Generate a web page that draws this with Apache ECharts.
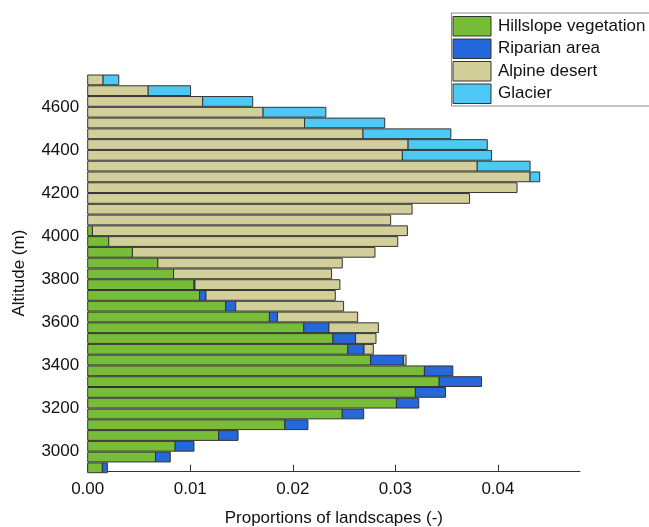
<!DOCTYPE html>
<html>
<head>
<meta charset="utf-8">
<script src="https://cdn.jsdelivr.net/npm/echarts@6/dist/echarts.min.js"></script>
<style>
html,body{margin:0;padding:0;background:#fff;}
#chart{width:649px;height:527px;}
</style>
</head>
<body>
<div id="chart"></div>
<script>
// Altitude bin centres (m), bottom to top (50 m bins)
const altitudes = [2925,2975,3025,3075,3125,3175,3225,3275,3325,3375,3425,3475,3525,3575,3625,3675,3725,3775,3825,3875,3925,3975,4025,4075,4125,4175,4225,4275,4325,4375,4425,4475,4525,4575,4625,4675,4725];
// Proportions of landscapes per class (segment widths)
const hillslope = [0.00143,0.00661,0.00853,0.01277,0.01922,0.02482,0.0301,0.03195,0.03427,0.03283,0.02759,0.02537,0.02391,0.02107,0.01772,0.01345,0.01091,0.01036,0.00837,0.00684,0.00436,0.00205,0.00046,0,0,0,0,0,0,0,0,0,0,0,0,0,0];
const riparian = [0.00049,0.00144,0.00183,0.00189,0.00225,0.00209,0.00218,0.00294,0.00413,0.00277,0.00319,0.00157,0.00221,0.00245,0.00078,0.00098,0.00062,0.0001,0,0,0,0,0,0,0,0,0,0,0,0,0,0,0,0,0,0,0];
const alpine = [0,0,0,0,0,0,0,0,0,0,0.00026,0.00091,0.00199,0.00482,0.00782,0.01052,0.01261,0.01413,0.01541,0.01798,0.02365,0.02818,0.03071,0.02954,0.03163,0.03723,0.04186,0.04313,0.03798,0.03068,0.03124,0.02684,0.02114,0.0171,0.01121,0.0059,0.0015];
const glacier = [0,0,0,0,0,0,0,0,0,0,0,0,0,0,0,0,0,0,0,0,0,0,0,0,0,0,0,0.00094,0.00515,0.0087,0.00772,0.00857,0.00782,0.00612,0.00488,0.00413,0.00153];
const seriesNames = ['Hillslope vegetation','Riparian area','Alpine desert','Glacier'];
const yTickValues = [3000,3200,3400,3600,3800,4000,4200,4400,4600];
const xTickValues = [0,0.01,0.02,0.03,0.04];

const colors = ['#77bd37','#2468dc','#d3cf9a','#4ccaf5'];
const borderCol = '#333333';
const binHalf = 25;
const FONT = '"Liberation Sans", Arial, sans-serif';

const classes = [hillslope, riparian, alpine, glacier];
const cum = altitudes.map(() => 0);
const seriesData = classes.map(arr => arr.map((v, i) => {
  const s = cum[i];
  cum[i] += v;
  return [s, s + v, altitudes[i]];
}));

function makeRender(color) {
  return function (params, api) {
    const x0 = api.value(0), x1 = api.value(1), alt = api.value(2);
    if (!(x1 - x0 > 0)) return null;
    const p0 = api.coord([x0, alt + binHalf]);
    const p1 = api.coord([x1, alt - binHalf]);
    const cs = params.coordSys;
    const shape = echarts.graphic.clipRectByRect(
      {x: p0[0], y: p0[1] + 0.5, width: p1[0] - p0[0], height: p1[1] - p0[1] - 1},
      {x: cs.x, y: cs.y, width: cs.width, height: cs.height + 1}
    );
    if (!shape) return null;
    return {type: 'rect', shape: shape, style: {fill: color, stroke: borderCol, lineWidth: 1}};
  };
}

const chart = echarts.init(document.getElementById('chart'), null, {renderer: 'canvas'});
chart.setOption({
  animation: false,
  backgroundColor: '#ffffff',
  textStyle: {fontFamily: FONT},
  grid: {left: 87.7, right: 69, top: 74.5, bottom: 55.3, containLabel: false, outerBoundsMode: 'none'},
  legend: {
    orient: 'vertical',
    left: 451.5,
    top: 13,
    padding: [3, 20, 2, 1],
    itemWidth: 38,
    itemHeight: 19.5,
    itemGap: 2,
    borderColor: '#888',
    borderWidth: 1,
    textStyle: {fontSize: 17, color: '#111', fontFamily: FONT, padding: [0, 0, 0, 2]},
    data: seriesNames.map((n, i) => ({name: n, icon: 'rect', itemStyle: {color: colors[i], borderColor: borderCol, borderWidth: 1}}))
  },
  xAxis: {
    type: 'value',
    min: 0,
    max: 0.048,
    name: 'Proportions of landscapes (-)',
    nameLocation: 'middle',
    nameGap: 38,
    nameTextStyle: {fontSize: 17, color: '#111', fontFamily: FONT},
    axisLine: {show: true, lineStyle: {color: '#333', width: 1}},
    axisTick: {show: true, inside: true, length: 7, customValues: xTickValues, lineStyle: {color: '#333'}},
    axisLabel: {customValues: xTickValues, fontSize: 17, color: '#111', margin: 9, fontFamily: FONT,
      formatter: v => v.toFixed(2)},
    splitLine: {show: false}
  },
  yAxis: {
    type: 'value',
    min: 2907,
    max: 4750,
    name: 'Altitude (m)',
    nameLocation: 'middle',
    nameGap: 60,
    nameTextStyle: {fontSize: 17, color: '#111', fontFamily: FONT},
    axisLine: {show: false},
    axisTick: {show: false},
    axisLabel: {customValues: yTickValues, fontSize: 17, color: '#111', margin: 8.5, fontFamily: FONT,
      formatter: v => String(v)},
    splitLine: {show: false}
  },
  series: seriesNames.map((n, i) => ({
    type: 'custom',
    name: n,
    itemStyle: {color: colors[i]},
    encode: {x: [0, 1], y: 2},
    renderItem: makeRender(colors[i]),
    data: seriesData[i]
  }))
});
</script>
</body>
</html>
